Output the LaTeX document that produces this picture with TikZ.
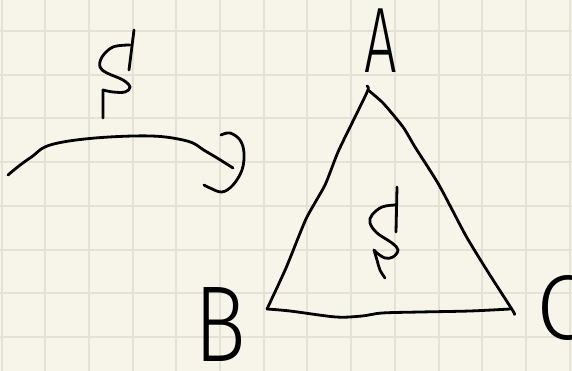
\documentclass[tikz,border=0pt]{standalone}
\usepackage{fontspec}
\newfontfamily\hand[UprightFont={* Light}]{Fira Sans}
\definecolor{paper}{HTML}{F7F5E9}
\definecolor{gridc}{HTML}{E3E2D4}
\begin{document}
\begin{tikzpicture}[x=1pt,y=-1pt,
  ink/.style={line width=2.8pt, line cap=round, line join=round},
  lbl/.style={inner sep=0pt, outer sep=0pt, font=\hand}]
\useasboundingbox (0,0) rectangle (572,371);
\fill[paper] (0,0) rectangle (572,371);
\foreach \i in {0,...,13} \draw[gridc, line width=2pt] ({1.5+43.7*\i},0) -- ({1.5+43.7*\i},371);
\foreach \j in {0,...,7} \draw[gridc, line width=2pt] (0,{31+43.7*\j}) -- (572,{31+43.7*\j});
% left symbol
\draw[ink] (134,30) -- (129,70);
\draw[ink] plot[smooth, tension=0.6] coordinates {(130,45) (113,47) (102,57) (100,67) (107,73) (123,80) (130,87) (125,92) (113,92) (103,90)} -- (103,118);
% arc
\draw[ink] plot[smooth, tension=0.7] coordinates {(8,175) (30,158) (58,143) (133,136) (183,140) (207,152) (233,168)};
\draw[ink] plot[smooth, tension=0.6] coordinates {(221,135) (230,133) (240,140) (244,153) (242,170) (233,185) (222,192) (210,188) (204,185)};
% triangle
\draw[ink] plot[smooth, tension=0.4] coordinates {(367,86) (368,90) (356,115) (338,152) (325,185) (306,219) (286,268) (267,309)};
\draw[ink] plot[smooth, tension=0.4] coordinates {(368,90) (383,103) (403,127) (415,147) (439,185) (466,236) (488,272) (513,311) (514,314)};
\draw[ink] plot[smooth, tension=0.5] coordinates {(267,309) (290,311) (336,317) (362,316) (382,313) (420,312) (470,311) (510,309)};
% inner symbol
\draw[ink] (397,187) -- (396,232);
\draw[ink] plot[smooth, tension=0.6] coordinates {(395,205) (382,207) (372,215) (370,223) (377,233) (392,243) (398,250) (393,257) (385,258) (377,253) (374,250)};
\draw[ink] plot[smooth, tension=0.6] coordinates {(374,250) (377,260) (380,270) (385,278)};
% labels
\node[lbl, xscale=0.62, font=\hand\fontsize{93}{93}\selectfont] (A) at (381,41) {A};
\node[lbl, xscale=0.8, font=\hand\fontsize{108}{108}\selectfont] (B) at (220,325) {B};
\node[lbl, font=\hand\fontsize{92}{92}\selectfont] (C) at (562,308) {C};
\end{tikzpicture}
\end{document}
